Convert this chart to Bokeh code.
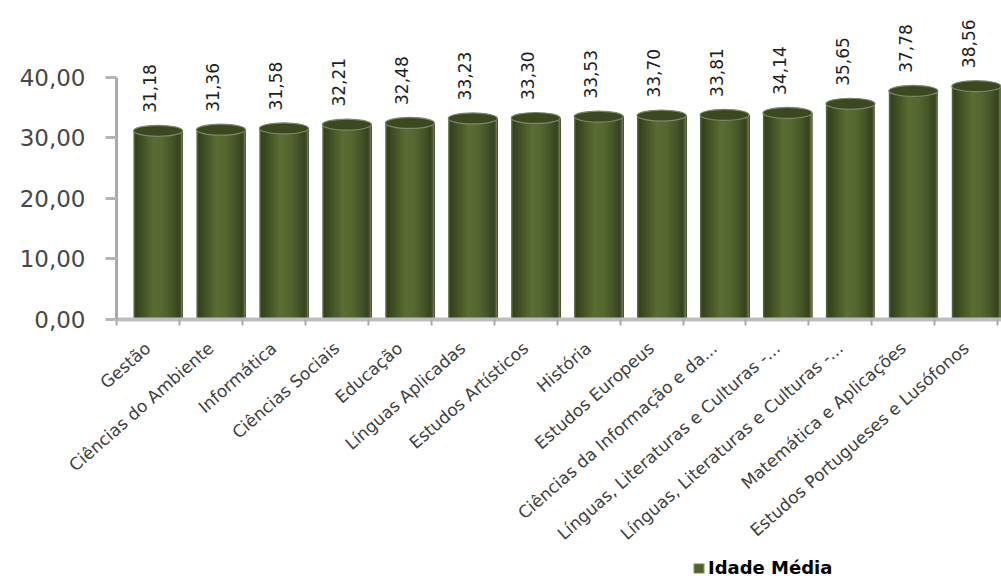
import numpy as np
from math import pi
from bokeh.plotting import figure
from bokeh.layouts import column
from bokeh.models import (ColumnDataSource, Range1d, FixedTicker, CustomJSTickFormatter,
                          Legend, LegendItem)
from bokeh.transform import dodge
from bokeh.core.properties import value
from bokeh.embed import file_html
from bokeh.resources import INLINE

# ---------------- data ----------------
categories = [
    "Gestão", "Ciências do Ambiente", "Informática", "Ciências Sociais", "Educação",
    "Línguas Aplicadas", "Estudos Artísticos", "História", "Estudos Europeus",
    "Ciências da Informação e da...", "Línguas, Literaturas e Culturas -...",
    "Línguas, Literaturas e Culturas -...", "Matemática e Aplicações",
    "Estudos Portugueses e Lusófonos",
]
idade_media = [31.18, 31.36, 31.58, 32.21, 32.48, 33.23, 33.30, 33.53, 33.70,
               33.81, 34.14, 35.65, 37.78, 38.56]
y_ticks = [0, 10, 20, 30, 40]
series_name = "Idade Média"

# ---------------- build ----------------
x_pos = list(range(1, len(categories) + 1))
labels = [f"{v:.2f}".replace(".", ",") for v in idade_media]
source = ColumnDataSource(dict(x=x_pos, top=idade_media, label=labels))

W, H, LH = 1001, 578, 22
p = figure(width=W, height=H - LH, output_backend="svg", toolbar_location=None,
           x_range=Range1d(0.5, len(categories) + 0.56), y_range=Range1d(0, 50.4),
           min_border_left=116, min_border_right=0, min_border_top=14,
           min_border_bottom=H - LH - 319)
p.outline_line_color = None
p.grid.visible = False
p.background_fill_color = "white"
p.border_fill_color = "white"

# cylinder body: overlapping strips give a horizontal shading
bar_shift = 0.16
bar_w = 0.78
stops = [(0.0, "#6b7556"), (0.04, "#34401b"), (0.18, "#425124"), (0.42, "#5a6d34"),
         (0.6, "#55682f"), (0.8, "#445428"), (0.94, "#35411c"), (1.0, "#7e876b")]


def hex2rgb(h):
    return np.array([int(h[i:i + 2], 16) for i in (1, 3, 5)], dtype=float)


def shade(t):
    for (t0, c0), (t1, c1) in zip(stops[:-1], stops[1:]):
        if t0 <= t <= t1:
            f = (t - t0) / (t1 - t0) if t1 > t0 else 0
            c = hex2rgb(c0) * (1 - f) + hex2rgb(c1) * f
            return "#%02x%02x%02x" % tuple(int(round(v)) for v in c)
    return stops[-1][1]


n_strips = 30
sw = bar_w / n_strips
for k in range(n_strips):
    left = -bar_w / 2 + k * sw
    right = bar_w / 2
    p.vbar(x=dodge("x", bar_shift + (left + right) / 2), top="top", bottom=0,
           width=right - left, source=source, fill_color=shade((k + 0.5) / n_strips),
           line_color=None)

# cylinder top
p.ellipse(x=dodge("x", bar_shift), y="top", width=bar_w, height=11,
          height_units="screen", source=source, fill_color="#3c4920",
          line_color="#7d8869", line_width=1.2)

# value labels
p.text(x=dodge("x", 0.03), y="top", text="label", angle=pi / 2, source=source,
       text_align="left", text_baseline="middle", y_offset=-18,
       text_font=value("DejaVu Sans"), text_font_size="17px", text_color="#1e1e1e")

# y axis
p.yaxis.ticker = FixedTicker(ticks=y_ticks)
p.yaxis.bounds = (y_ticks[0], y_ticks[-1])
p.yaxis.formatter = CustomJSTickFormatter(code="return tick.toFixed(2).replace('.', ',');")
p.yaxis.axis_line_color = "#a9a9a9"
p.yaxis.axis_line_width = 3
p.yaxis.major_tick_line_color = "#b5b5b5"
p.yaxis.major_tick_line_width = 3
p.yaxis.major_tick_out = 11
p.yaxis.major_tick_in = 0
p.yaxis.minor_tick_line_color = None
p.yaxis.major_label_standoff = 20
p.yaxis.major_label_text_font = "DejaVu Sans"
p.yaxis.major_label_text_font_size = "23px"
p.yaxis.major_label_text_color = "#474747"

# x axis
p.xaxis.ticker = FixedTicker(ticks=x_pos, minor_ticks=[i + 0.5 for i in range(len(categories) + 1)])
p.xaxis.major_label_overrides = {i: c for i, c in zip(x_pos, categories)}
p.xaxis.major_label_orientation = 0.72
p.xaxis.axis_line_color = "#bdbdbd"
p.xaxis.axis_line_width = 4
p.xaxis.major_tick_line_color = None
p.xaxis.major_tick_out = 0
p.xaxis.major_tick_in = 0
p.xaxis.minor_tick_line_color = "#a9a9a9"
p.xaxis.minor_tick_line_width = 2
p.xaxis.minor_tick_out = 6
p.xaxis.minor_tick_in = 0
p.xaxis.major_label_standoff = 20
p.xaxis.major_label_text_font = "DejaVu Sans"
p.xaxis.major_label_text_font_size = "17px"
p.xaxis.major_label_text_color = "#404040"

# legend strip (a small figure under the chart; its frame is aligned with the chart's)
lg = figure(width=W, height=LH, output_backend="svg", toolbar_location=None,
            x_axis_type=None, y_axis_type=None,
            x_range=Range1d(-2, -1), y_range=Range1d(0, 1),
            min_border=0, min_border_left=0, min_border_right=0,
            min_border_top=0, min_border_bottom=0)
lg.grid.visible = False
lg.outline_line_color = None
legend_src = lg.vbar(x="x", top="top", width=0.5, source=source,
                     fill_color="#4f6228", line_color="#b4b9a8", line_width=1)
legend = Legend(items=[LegendItem(label=series_name, renderers=[legend_src])],
                location=(576, 0), orientation="horizontal",
                background_fill_alpha=0, border_line_color=None,
                label_text_font="DejaVu Sans", label_text_font_size="18px",
                label_text_font_style="bold", label_text_color="#000000",
                glyph_width=13, glyph_height=12, padding=0, margin=0,
                label_standoff=3, spacing=0)
lg.add_layout(legend)

open("out.html", "w").write(file_html(column(p, lg, spacing=0), INLINE))
